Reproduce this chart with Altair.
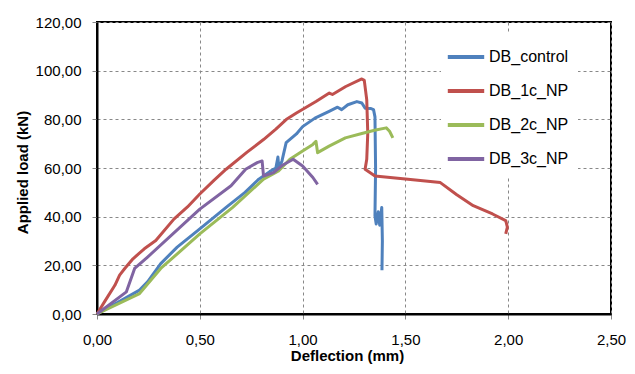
import altair as alt
import pandas as pd

series_names = ["DB_control", "DB_1c_NP", "DB_2c_NP", "DB_3c_NP"]
series_colors = ["#4F81BD", "#C0504D", "#9BBB59", "#8064A2"]

control_x = [0, 0.207, 0.246, 0.31, 0.39, 0.5, 0.628, 0.72, 0.787, 0.84, 0.87, 0.88, 0.885, 0.9, 0.92, 0.97, 1.0, 1.06, 1.129, 1.17, 1.19, 1.22, 1.264, 1.288, 1.304, 1.33, 1.345, 1.352, 1.355, 1.352, 1.358, 1.368, 1.375, 1.385, 1.388, 1.386]
control_y = [0, 9.8, 13.2, 20.7, 27.5, 35.0, 43.8, 50.0, 55.4, 58.5, 60.0, 64.5, 59.5, 63.0, 70.4, 74.0, 77.0, 80.5, 83.3, 85.0, 84.0, 86.0, 87.3, 86.7, 84.6, 84.5, 84.0, 81.0, 60.0, 40.4, 37.0, 42.0, 36.5, 43.8, 30.0, 18.0]

np1_x = [0, 0.04, 0.087, 0.11, 0.135, 0.175, 0.23, 0.286, 0.374, 0.44, 0.5, 0.57, 0.628, 0.73, 0.81, 0.87, 0.92, 0.97, 1.065, 1.13, 1.145, 1.21, 1.288, 1.30, 1.312, 1.317, 1.312, 1.304, 1.352, 1.5, 1.67, 1.75, 1.83, 1.924, 1.988, 1.996, 1.988]
np1_y = [0, 5.5, 11.8, 16.0, 18.7, 22.7, 26.8, 30.2, 39.0, 44.0, 49.3, 55.0, 59.5, 66.5, 71.7, 76.0, 79.9, 82.6, 87.3, 90.8, 90.2, 93.5, 96.6, 96.0, 88.0, 74.4, 63.6, 59.5, 56.7, 55.5, 54.0, 49.0, 44.5, 41.1, 38.4, 35.7, 32.9]

np2_x = [0, 0.207, 0.31, 0.5, 0.66, 0.81, 0.883, 0.938, 1.0, 1.05, 1.065, 1.073, 1.129, 1.208, 1.288, 1.35, 1.407, 1.423, 1.439]
np2_y = [0, 8.4, 18.7, 32.9, 43.8, 55.4, 58.8, 63.6, 67.0, 69.7, 71.0, 66.3, 69.0, 72.4, 74.2, 75.5, 76.5, 75.1, 72.4]

np3_x = [0, 0.143, 0.183, 0.246, 0.5, 0.652, 0.723, 0.779, 0.803, 0.81, 0.859, 0.9, 0.954, 1.0, 1.05, 1.073]
np3_y = [0, 9.1, 18.7, 23.4, 43.1, 52.7, 59.5, 62.2, 62.9, 56.7, 58.1, 61.0, 63.6, 60.8, 56.1, 53.3]

x_ticks = [0, 0.5, 1.0, 1.5, 2.0, 2.5]
y_ticks = [0, 20, 40, 60, 80, 100, 120]

rows = []
for name, xs, ys in [
    ("DB_control", control_x, control_y),
    ("DB_1c_NP", np1_x, np1_y),
    ("DB_2c_NP", np2_x, np2_y),
    ("DB_3c_NP", np3_x, np3_y),
]:
    for i, (a, b) in enumerate(zip(xs, ys)):
        rows.append({"series": name, "x": a, "y": b, "idx": i})
df = pd.DataFrame(rows)

FONT = "Liberation Sans"
comma_fmt = "replace(format(datum.value, '.2f'), '.', ',')"

chart = alt.Chart(df).mark_line(strokeWidth=3, strokeJoin="round").encode(
    x=alt.X("x:Q", scale=alt.Scale(domain=[0, 2.5], nice=False),
            axis=alt.Axis(values=x_ticks, labelExpr=comma_fmt, title="Deflection (mm)",
                          labelFlush=False, labelOverlap=False,
                          labelPadding=13, titlePadding=1, titleX=250)),
    y=alt.Y("y:Q", scale=alt.Scale(domain=[0, 120], nice=False),
            axis=alt.Axis(values=y_ticks, labelExpr=comma_fmt, title="Applied load (kN)",
                          labelFlush=False, labelOverlap=False,
                          labelPadding=11, titlePadding=5, titleY=150)),
    color=alt.Color("series:N", scale=alt.Scale(domain=series_names, range=series_colors),
                    legend=alt.Legend(title=None, orient="none", legendX=344, legendY=10,
                                      fillColor="white", padding=9,
                                      symbolType="M-1.3,0H1.3", symbolSize=784,
                                      symbolStrokeWidth=4, labelOffset=7,
                                      labelFont=FONT, labelFontSize=16, labelColor="#000",
                                      rowPadding=10)),
    order="idx:Q",
).properties(
    width=514, height=292,
    autosize=alt.AutoSizeParams(type="none"),
    padding={"left": 89, "top": 14, "right": 16, "bottom": 52},
).configure_view(
    stroke="black", strokeWidth=2,
).configure_axis(
    labelFont=FONT, labelFontSize=15, labelColor="#000",
    titleFont=FONT, titleFontSize=15, titleFontWeight="bold", titleColor="#000",
    domainColor="black", domainWidth=2,
    tickColor="#888", tickSize=5,
    gridColor="#888", gridDash=[3, 3], gridWidth=1,
)

chart.save("out.html", embed_options={"renderer": "svg", "actions": False})
